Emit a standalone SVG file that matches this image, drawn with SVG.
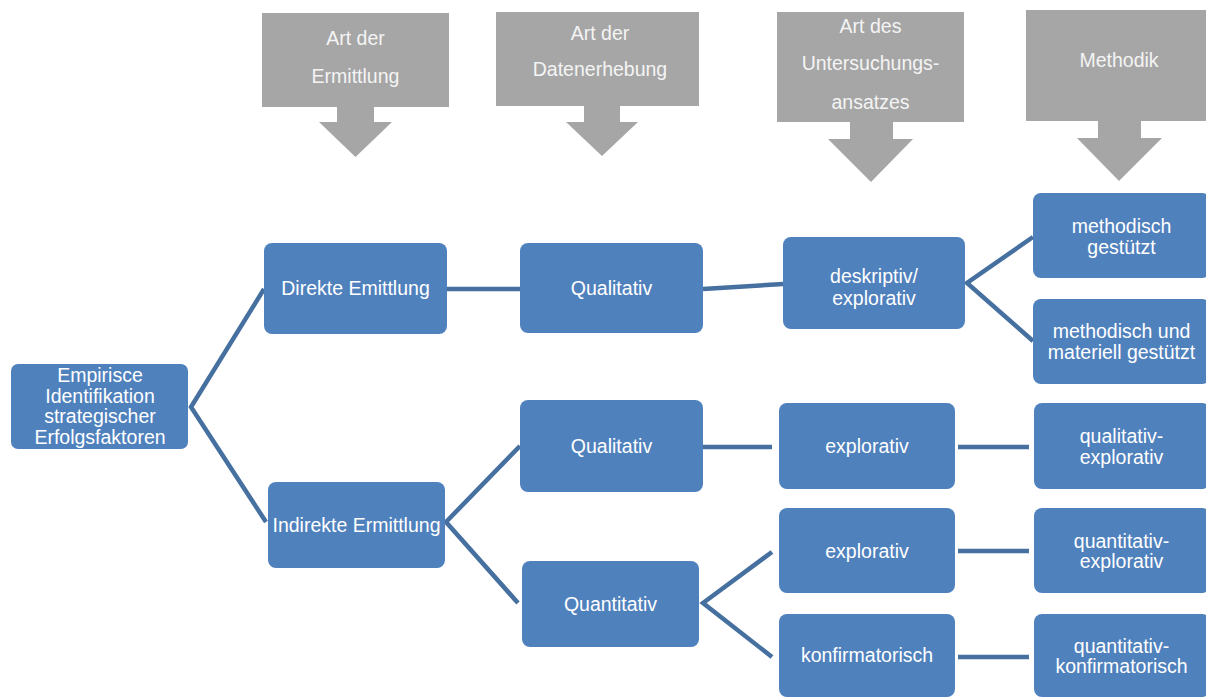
<svg xmlns="http://www.w3.org/2000/svg" width="1206" height="698" viewBox="0 0 1206 698">
<style>
.hdr{fill:#a6a6a6}
.ht{fill:#f4f4f4;font-family:"Liberation Sans",Arial,sans-serif;font-size:19.5px;text-anchor:middle}
.box{fill:#4f81bd}
.bt{fill:#ffffff;font-family:"Liberation Sans",Arial,sans-serif;font-size:19.5px;text-anchor:middle}
.con{stroke:#46709f;stroke-width:4.5;fill:none;stroke-linejoin:miter}
</style>
<rect width="1206" height="698" fill="#ffffff"/>
<g id="h1">
<polygon class="hdr" points="262,13 449,13 449,107 374,107 374,122 392,122 355.5,157 319,122 337,122 337,107 262,107"/>
<text class="ht" x="355.5" y="45">Art der</text>
<text class="ht" x="355.5" y="83">Ermittlung</text>
</g>
<g id="h2">
<polygon class="hdr" points="496,12 699,12 699,106 620,106 620,122 638,122 602,156 566,122 584,122 584,106 496,106"/>
<text class="ht" x="600" y="40">Art der</text>
<text class="ht" x="600" y="76">Datenerhebung</text>
</g>
<g id="h3">
<polygon class="hdr" points="777,12 964,12 964,122 893,122 893,139 913,139 871,182 828,139 850,139 850,122 777,122"/>
<text class="ht" x="870.5" y="33">Art des</text>
<text class="ht" x="870.5" y="70">Untersuchungs-</text>
<text class="ht" x="870.5" y="109">ansatzes</text>
</g>
<g id="h4">
<polygon class="hdr" points="1026,10 1212,10 1212,121 1141,121 1141,138 1162,138 1119,181 1077,138 1098,138 1098,121 1026,121"/>
<text class="ht" x="1119" y="67">Methodik</text>
</g>
<g id="connectors">
<polyline class="con" points="264,289 191,407 266,522"/>
<line class="con" x1="447" y1="289" x2="520" y2="289"/>
<line class="con" x1="703" y1="289" x2="783" y2="284"/>
<polyline class="con" points="1033,237 967,283 1033,341"/>
<polyline class="con" points="520,446 446,522 518,603"/>
<line class="con" x1="702" y1="447" x2="772" y2="447"/>
<line class="con" x1="958" y1="447" x2="1029" y2="447"/>
<polyline class="con" points="772,552 703,603 772,657"/>
<line class="con" x1="958" y1="551" x2="1029" y2="551"/>
<line class="con" x1="958" y1="657" x2="1029" y2="657"/>
</g>
<g id="root">
<rect class="box" x="11" y="364" width="177" height="85" rx="7"/>
<text class="bt" x="100" y="382">Empirisce</text>
<text class="bt" x="100" y="402.5">Identifikation</text>
<text class="bt" x="100" y="423">strategischer</text>
<text class="bt" x="100" y="443.5">Erfolgsfaktoren</text>
</g>
<g id="direkt">
<rect class="box" x="264" y="243" width="183" height="91" rx="8"/>
<text class="bt" x="355.5" y="295">Direkte Emittlung</text>
</g>
<g id="indirekt">
<rect class="box" x="268" y="482" width="177" height="86" rx="8"/>
<text class="bt" x="356.5" y="532">Indirekte Ermittlung</text>
</g>
<g id="qual1">
<rect class="box" x="520" y="243" width="183" height="90" rx="8"/>
<text class="bt" x="611.5" y="295">Qualitativ</text>
</g>
<g id="deskr">
<rect class="box" x="783" y="237" width="182" height="92" rx="8"/>
<text class="bt" x="874" y="283">deskriptiv/</text>
<text class="bt" x="874" y="305">explorativ</text>
</g>
<g id="meth1">
<rect class="box" x="1033" y="193" width="177" height="85" rx="8"/>
<text class="bt" x="1121.5" y="232.5">methodisch</text>
<text class="bt" x="1121.5" y="253.5">gestützt</text>
</g>
<g id="meth2">
<rect class="box" x="1033" y="299" width="177" height="85" rx="8"/>
<text class="bt" x="1121.5" y="338">methodisch und</text>
<text class="bt" x="1121.5" y="359">materiell gestützt</text>
</g>
<g id="qual2">
<rect class="box" x="520" y="400" width="183" height="92" rx="8"/>
<text class="bt" x="611.5" y="453">Qualitativ</text>
</g>
<g id="expl1">
<rect class="box" x="779" y="403" width="176" height="86" rx="8"/>
<text class="bt" x="867" y="453">explorativ</text>
</g>
<g id="qualexpl">
<rect class="box" x="1034" y="403" width="176" height="86" rx="8"/>
<text class="bt" x="1121.5" y="443">qualitativ-</text>
<text class="bt" x="1121.5" y="463.5">explorativ</text>
</g>
<g id="quant">
<rect class="box" x="522" y="561" width="177" height="86" rx="8"/>
<text class="bt" x="610.5" y="610.5">Quantitativ</text>
</g>
<g id="expl2">
<rect class="box" x="779" y="508" width="176" height="85" rx="8"/>
<text class="bt" x="867" y="557.5">explorativ</text>
</g>
<g id="quantexpl">
<rect class="box" x="1034" y="508" width="176" height="85" rx="8"/>
<text class="bt" x="1121.5" y="547.5">quantitativ-</text>
<text class="bt" x="1121.5" y="568">explorativ</text>
</g>
<g id="konf">
<rect class="box" x="779" y="614" width="176" height="83" rx="8"/>
<text class="bt" x="867" y="662">konfirmatorisch</text>
</g>
<g id="quantkonf">
<rect class="box" x="1034" y="614" width="176" height="83" rx="8"/>
<text class="bt" x="1121.5" y="652.5">quantitativ-</text>
<text class="bt" x="1121.5" y="673">konfirmatorisch</text>
</g>
</svg>
